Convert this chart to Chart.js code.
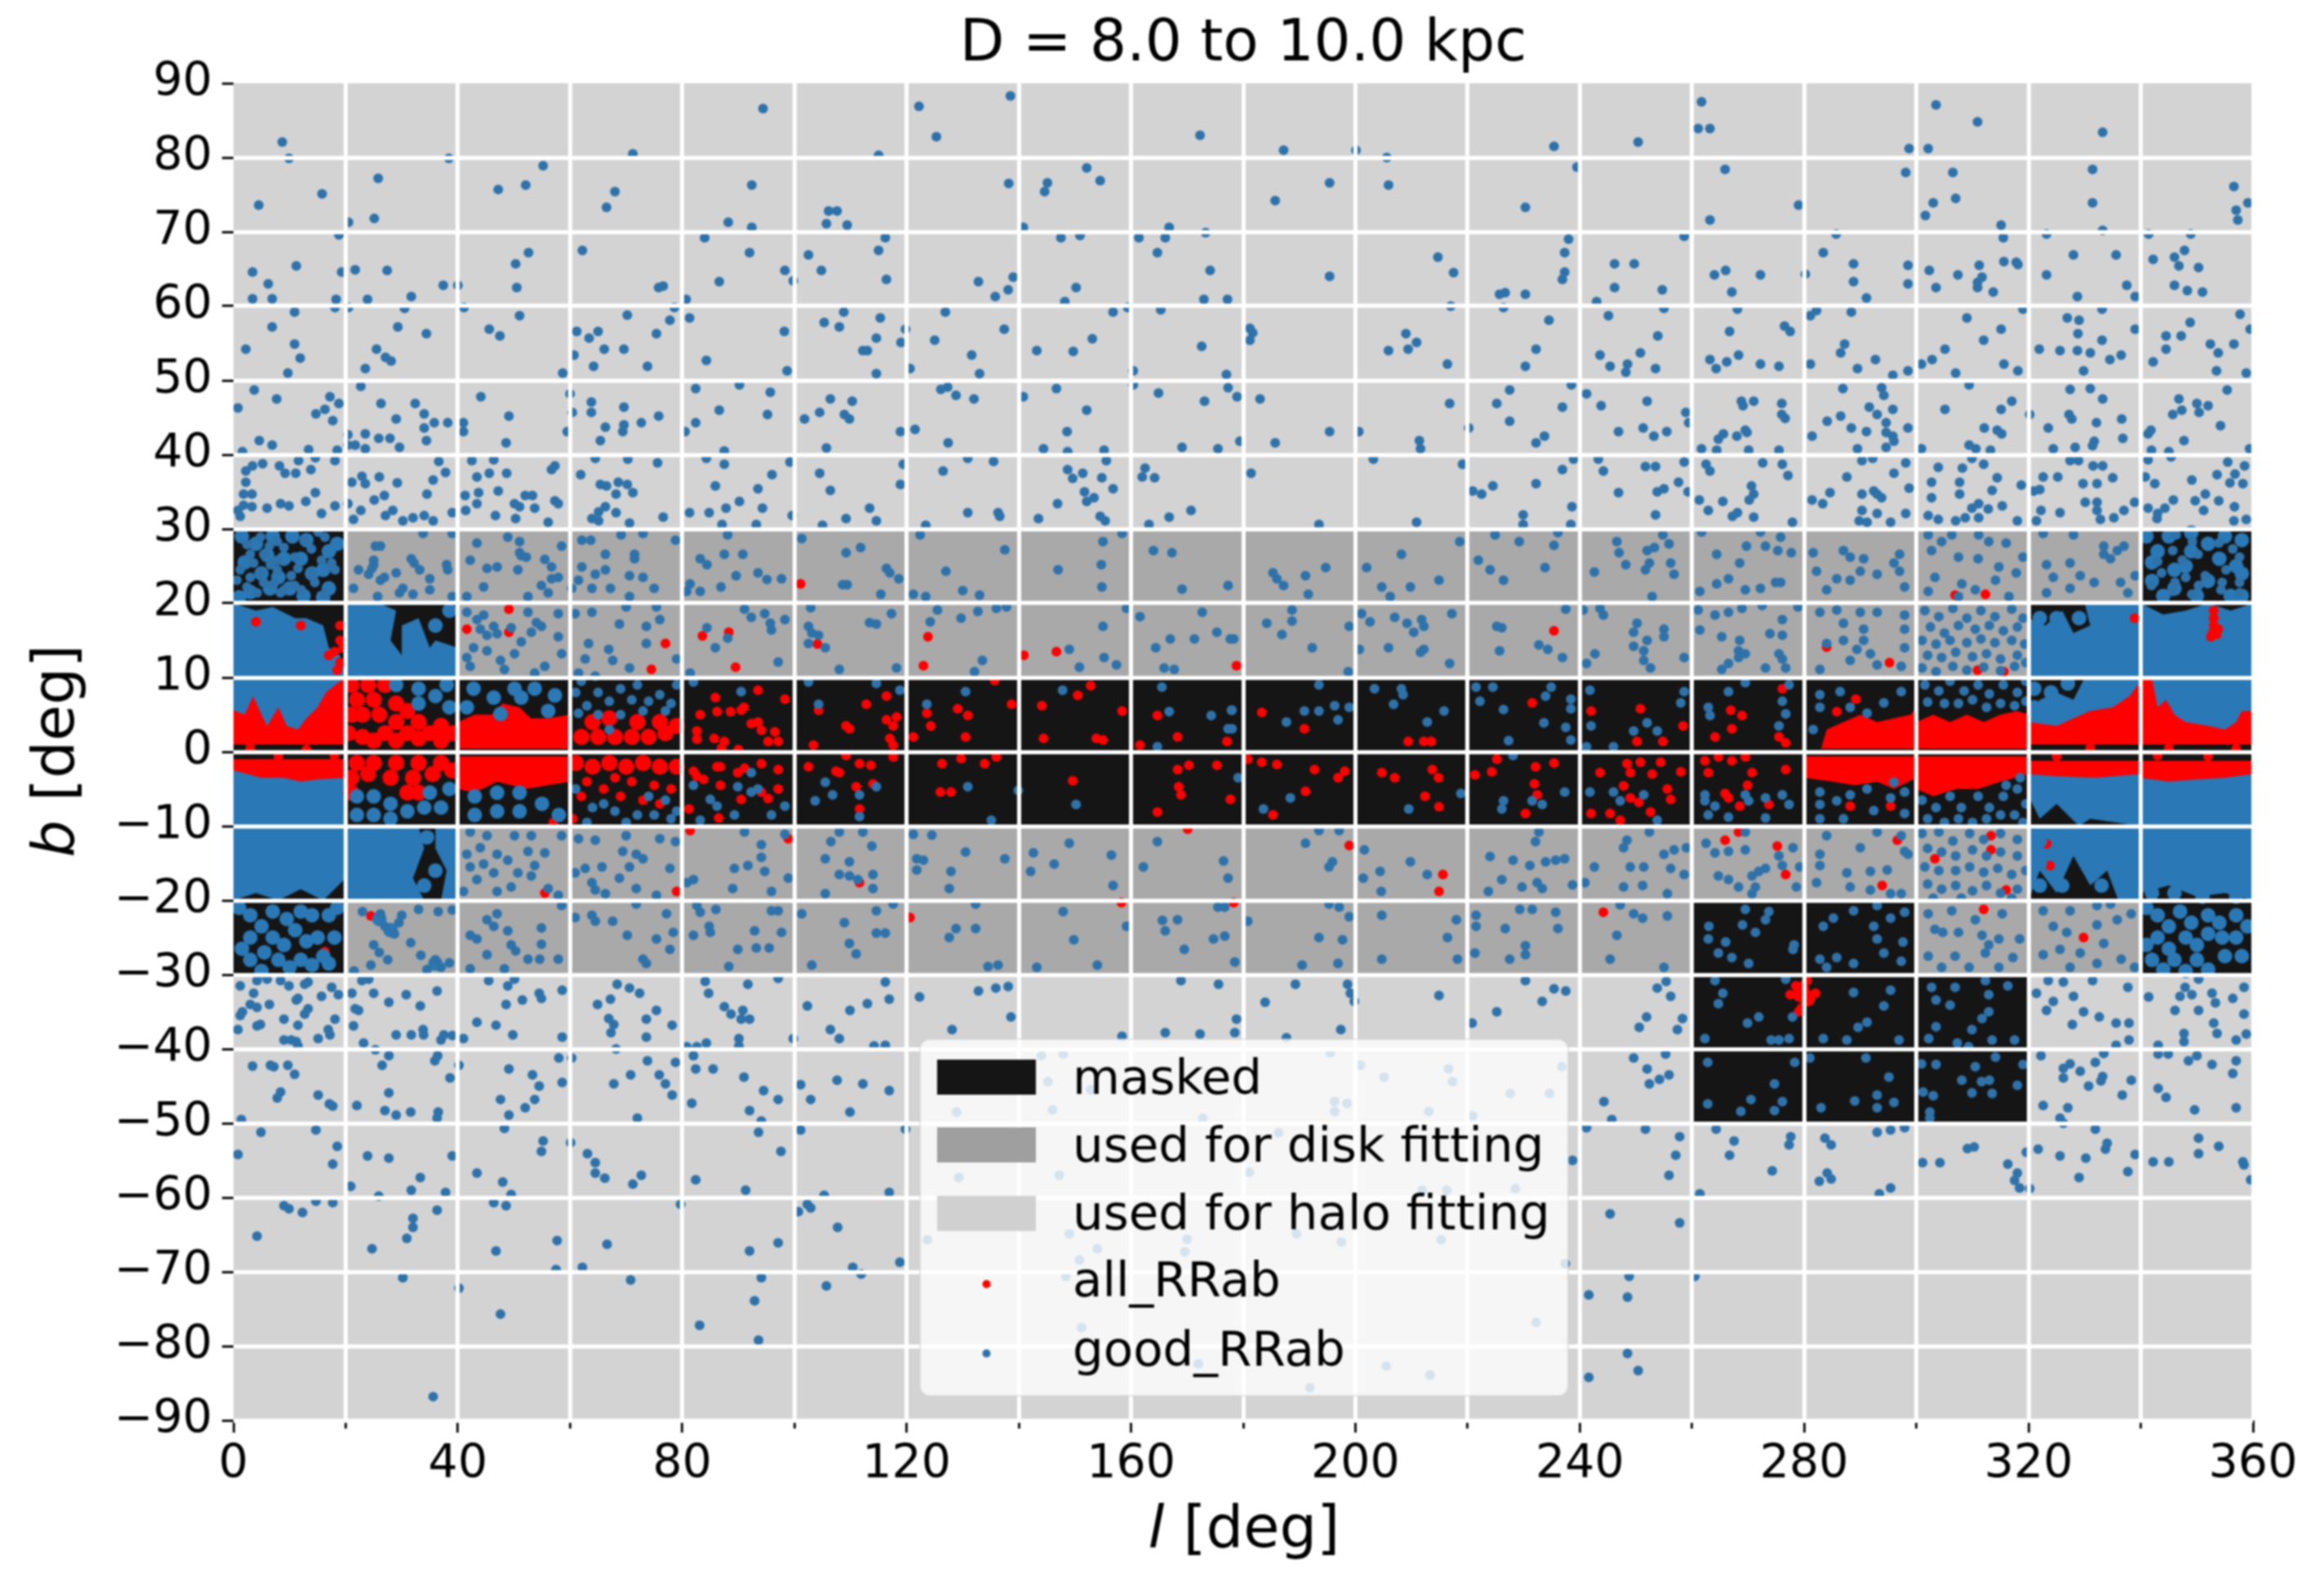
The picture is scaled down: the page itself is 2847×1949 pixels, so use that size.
<!DOCTYPE html>
<html>
<head>
<meta charset="utf-8">
<title>D = 8.0 to 10.0 kpc</title>
<script src="https://cdn.jsdelivr.net/npm/chart.js@4/dist/chart.umd.js"></script>
<style>
  html, body { margin: 0; padding: 0; background: #fff; }
  canvas { display: block; filter: blur(0.8px); }
</style>
</head>
<body>
<canvas id="chart" width="2847" height="1949"></canvas>
<script>
const titleText = "D = 8.0 to 10.0 kpc";
const lTicks = [0, 20, 40, 60, 80, 100, 120, 140, 160, 180, 200, 220, 240, 260, 280, 300, 320, 340, 360];
const lLabels = [0, 40, 80, 120, 160, 200, 240, 280, 320, 360];
const bTicks = [90, 80, 70, 60, 50, 40, 30, 20, 10, 0, -10, -20, -30, -40, -50, -60, -70, -80, -90];
const legendNames = ["masked", "used for disk fitting", "used for halo fitting", "all_RRab", "good_RRab"];

// one string per b row (90 down to -90), one letter per 20 deg of l
// M = masked, D = disk fitting, H = halo fitting
const cellRows = [
  "HHHHHHHHHHHHHHHHHH",
  "HHHHHHHHHHHHHHHHHH",
  "HHHHHHHHHHHHHHHHHH",
  "HHHHHHHHHHHHHHHHHH",
  "HHHHHHHHHHHHHHHHHH",
  "HHHHHHHHHHHHHHHHHH",
  "MDDDDDDDDDDDDDDDDM",
  "MMDDDDDDDDDDDDDDMM",
  "MMMMMMMMMMMMMMMMMM",
  "MMMMMMMMMMMMMMMMMM",
  "MMDDDDDDDDDDDDDDMM",
  "MDDDDDDDDDDDDMMDDM",
  "HHHHHHHHHHHHHMMMHH",
  "HHHHHHHHHHHHHMMMHH",
  "HHHHHHHHHHHHHHHHHH",
  "HHHHHHHHHHHHHHHHHH",
  "HHHHHHHHHHHHHHHHHH",
  "HHHHHHHHHHHHHHHHHH"
];

// good_RRab, b > 30, l < 180
const goodNorthA = [[8.7,82.1],[94.4,86.6],[122.2,86.9],[125.3,82.8],[138.5,88.3],[172.3,83],[9.9,79.9],[38.4,79.9],[71.2,80.5],[115,80.3],
[4.5,73.6],[15.8,75.1],[20.5,71.3],[25.1,71.8],[25.8,77.2],[47.2,75.7],[52.1,76.3],[55.2,78.9],[66.5,73.3],[68,75.4],[88.2,71.3],[92.4,76.3],[105.7,71.1],[106.1,72.8],[107.6,72.8],[109.4,70.9],[138.2,76.5],[145.1,76.6],[144.6,75.4],[152.1,78.6],[154.5,76.9],[92.4,70.6],[140.8,70.6],[166.8,70.6],
[18.8,69.6],[3.4,64.6],[6.2,63],[11.2,65.4],[3.4,61],[6.9,61],[19.3,64.6],[21.7,64.9],[27.4,64.8],[23.9,60.9],[31.7,61.3],[37.4,62.8],[40,62.8],[52.6,67.2],[50.3,65.7],[50.5,62.5],[62.2,67.5],[75.8,62.5],[76.6,62.7],[84,69.2],[92,67.2],[86.6,63.3],[98.3,64.8],[99.8,63.4],[102.5,66.9],[104.8,64.8],[116.2,69.2],[115,67.5],[116.4,63.6],[132.8,63.3],[135.8,61.3],[138.1,62.2],[139,63.9],[147.5,69.2],[150.9,69.5],[150.2,62.5],[161.4,69.2],[166.1,69.2],[164.7,67.2],[173.3,69.9],[174.1,64.8],[173,60.9],[177.2,60.9],[18.3,60.9],[80.7,60.9],[148.2,60.6],
[10.9,59.2],[6.9,57.2],[2.2,54.2],[10.9,54.9],[11.9,53],[9.7,51],[18.1,59.8],[20.5,59.8],[30.5,59.7],[29.3,57.2],[34.4,56.3],[25.5,54.2],[27.1,53.1],[28.1,52.6],[23.5,51.6],[41.1,59.8],[51,58.7],[45.6,56.9],[47.5,56],[58.7,51],[60.7,53.4],[61.2,56.6],[63.4,55.7],[65,56.6],[66.1,54.2],[69.6,54.2],[64.2,51.9],[70.2,58.8],[73.8,51.9],[75.4,56.3],[77.8,58.1],[78.6,59.8],[81.3,58.4],[84.3,52.7],[98.2,56.6],[98.7,51.3],[108.8,59.2],[105.3,57.8],[108,57.2],[115.3,58.4],[114.6,55.7],[112.2,54],[113,54],[119,55.1],[119.8,56.9],[114.6,50.9],[120.6,51.6],[126.9,59.2],[125,55.4],[137.4,56.9],[131.6,53.4],[133,50.9],[143.2,54],[149.7,53.9],[153.1,55.6],[156.8,59.2],[159.4,59.8],[165.3,59.5],[172.6,54.6],[160.4,51.3],[177,50.8],
[3.7,48.7],[7.7,47.5],[0.8,46.3],[17.2,47.8],[18.8,46.9],[16.3,46.1],[14.7,45.5],[17.7,44.6],[4.6,41.9],[6.9,41.3],[13.4,40.7],[18.5,40.6],[1.6,40.4],[22.7,49.2],[26.3,46.9],[32.4,46.9],[34,45.5],[29,44.8],[35.8,44.3],[38.2,44.3],[34,43.6],[34.4,41.9],[20.4,42.7],[23.5,42.8],[25.9,42.2],[27.9,42.2],[21.7,41.3],[20.4,41.3],[23.5,40.8],[29.6,41],[41,44.3],[41,43.1],[44.1,47.8],[49.1,45.2],[48.6,41.6],[60,48.2],[63.8,47.1],[63.8,45.7],[60.4,45.7],[69.6,46.4],[66.3,43.7],[69.6,44],[69.4,43.1],[72.7,44.3],[75.8,45.2],[65.4,41.9],[59.5,43.1],[82.4,48.9],[90.2,49.4],[95.7,48.4],[86.6,46],[95.2,45.4],[82.4,44.3],[80.5,43.1],[87.5,40.5],[106.4,47.5],[110.3,47.2],[104.5,45.7],[101.8,44.8],[108.9,45.4],[109.8,44.8],[105.7,40.9],[118.9,43.1],[126.1,48.8],[127.3,49.1],[128.8,48],[132,47.5],[121.5,43.4],[127.4,41.6],[140.8,47.8],[146.7,48.9],[152.1,46],[148.6,43.1],[144.4,40.8],[155.2,40.6],[148.7,40.4],[164.9,48.3],[173.1,47.2],[177.3,49],[178.9,47.8],[169.1,41],[175.5,40.8],[160.4,49.4],[179.4,41.8],
[2.2,37.8],[2.2,36.3],[3.4,38.5],[5.2,38.8],[8.2,38.5],[9.2,37.5],[11.1,37.5],[13.8,38],[11.6,39.2],[18.1,39.2],[14.6,39.6],[0.8,32.5],[1.2,31.7],[1.8,34.7],[3.3,34.7],[1.8,33.2],[3.3,33],[6,32.8],[8.4,33.4],[9.9,33.1],[12.9,33.7],[14.6,34.9],[15.7,32.1],[18.1,33.1],
[21.1,36.3],[22.9,37.1],[23.5,36.1],[26,37],[29.2,36.2],[35.6,36.6],[37.8,37.6],[36.6,39.1],[34.5,34.7],[26.9,34.5],[25.1,33.9],[20.4,33.4],[22.7,32.5],[21.4,31.3],[28.4,32.5],[27.1,31.8],[30.2,31.1],[32,31.5],[34,31.8],[35.6,31.1],[39,32.2],
[42.5,39.2],[46.4,39.3],[43.4,37],[45.6,37.5],[48.7,37.5],[57.3,38.5],[56.7,38],[41.3,34.5],[43.7,34.9],[47.2,35.1],[52,34.5],[53.3,34.5],[41.4,32.5],[43.4,33.4],[50.1,33.4],[51,33],[53.7,32.8],[57.3,33.8],[57.9,33.4],[46.7,31.8],[50.3,31.4],[56.1,30.9],
[64.5,39.5],[70.3,39.4],[75.6,38.9],[61.9,37.3],[65.4,36],[66.5,35.8],[68.6,36.3],[70.2,36],[68.2,34.7],[71.2,34.9],[66.3,33],[65.1,32.3],[68.2,32.2],[63.9,31.4],[65.1,31.1],[76.6,31.6],[70.6,30.8],
[84.3,39.5],[87.5,38.7],[99.2,39],[96,37.3],[85.9,35.8],[93.5,35.4],[90.2,33.7],[87.8,32.8],[84.8,32.2],[81.3,32.2],[94.3,32.8],[87.1,30.6],[93.2,30.6],[104.5,37.5],[106.4,35.2],[119.4,38.7],[118.9,36],[113.4,32.8],[114.6,31.1],[109.2,31.4],[105,30.5],[99.6,31.8],
[126.5,37.8],[130.9,39.5],[135.5,39.1],[130.9,32.2],[136.3,32.2],[136.6,31.7],[123.4,30.5],[148.7,38],[149.6,36.8],[151.4,37.5],[154.8,36.9],[155.6,39.2],[156.8,35.4],[151.7,35],[153.4,34.2],[152.1,33.7],[146.9,33.4],[143.5,31.4],[154.5,31.7],[155.4,31.1],[162.5,38.2],[162,37],[164.2,36.9],[170.7,32.5],[166.8,31.6],[163.2,30.6]];

// good_RRab, b > 30, l > 180
const goodNorthB = [[187.2,81],[200.1,81],[205.6,80],[235.4,81.5],[250.4,82.1],[261.7,87.5],[261.1,83.9],[263.2,83.9],[298.7,81.2],[302.1,81.2],[303.5,87.1],[310.9,84.8],[333.2,83.4],
[185.7,74.2],[195.4,76.6],[205.9,76.3],[230.3,73.3],[239.5,78.7],[265.9,78.4],[263.2,71.6],[279,73.6],[298.1,78],[306.5,78],[303,73.9],[307,74.5],[301.6,72.2],[315.1,70.9],[331.4,78.4],[331.4,73.9],[356.6,76.1],[359.1,73.9],[357,72.9],[357.3,71.6],
[195.4,64],[214.7,66.6],[217.5,64.5],[217,60],[225.7,61.6],[226.7,61.8],[230.3,61.6],[238,69],[237.3,67.2],[237.3,64.6],[236.9,63.6],[226.4,59.8],[258.6,69.4],[246.2,65.7],[249.7,65.7],[246.2,62.5],[254.7,62.2],[243,60.6],[264,64.2],[266,64.8],[272.2,64.2],[267.1,61.9],[280.2,64.3],[285.7,69.7],[283.4,67.2],[288.8,65.7],[288.8,63.3],[291.1,61.1],[298.5,65.5],[298.5,63],[302.3,64.8],[303.5,62.5],[307.4,64.2],[311.2,65.5],[311.7,63.9],[310.9,63.2],[310.9,62.5],[313.7,61.9],[315.5,69.2],[315.6,66],[317.8,65.9],[318.1,65.6],[323.2,69.7],[323.2,64.2],[328,66.9],[335.6,66.9],[333.2,70.2],[328.7,61.3],[337.5,62.8],[339,61.3],[341.4,69.7],[348.9,69.7],[342.2,66.3],[346,66.6],[347.8,67.5],[346.8,65.4],[350.3,65.2],[346,62.8],[348.3,62.1],[351,61.9],
[181.2,57],[181.7,56.4],[181.2,55.4],[209,56.3],[210.9,55.1],[209.4,54.2],[205.9,54],[216.4,52.2],[234.5,58.1],[232.2,54.2],[230.3,51.9],[255,59.7],[245.1,58.7],[253.9,56],[243.6,53.4],[250.8,53.7],[245.4,51.9],[248.5,52.2],[248.2,51.1],[253.5,51.6],[268.1,59.6],[266.7,56.6],[276.5,57.3],[277.5,56.6],[263.2,52.8],[266.2,52.5],[268.3,53.4],[264.3,51.6],[272.2,52.2],[275.5,51.9],[281.1,58.7],[282.2,59.4],[288.4,59.2],[287.2,54.9],[286.5,53.7],[281.1,52.2],[292.7,52.8],[289.5,51.6],[298.5,51.3],[295.8,50.7],[300.9,52.2],[302.8,52.8],[305.1,54.2],[307,51],[309,58.4],[315.1,56.9],[312,55.4],[319,59.6],[315.6,52.2],[318.1,51.3],[326.9,58.4],[329,58.1],[328.8,56.3],[321.9,54.2],[325.6,54],[328.7,54],[331,53.7],[333.1,55.4],[333.1,59.6],[334.5,52.8],[336.5,53.4],[329.8,51.3],[339,56.9],[344.5,56],[347.2,56],[348.8,57.8],[352.4,54.9],[344.5,54.2],[342.2,52.5],[353.8,53.7],[356.6,54.9],[353.5,51.3],[357.7,58.9],[358.8,51],[359.5,56.9],
[183,47.5],[216.8,46.9],[195.4,43.1],[185.7,41.6],[200.6,43.1],[211.4,41.9],[211.6,40.8],[220.2,43.6],[227.5,48.7],[225.2,46.9],[227.5,44.5],[236.9,46.4],[233.7,42.5],[232.2,41.6],[238.5,49.4],[241.2,48.2],[243.8,46.6],[252,47.2],[246.9,43.1],[251.3,43.6],[253.2,42.5],[255.5,43.1],[258.9,45.7],[259.4,44.3],[261.7,40.8],[264.4,40.6],[268.8,47.2],[269.1,46.6],[271,47.2],[276,46.9],[276,45.4],[276.6,44.9],[269.5,43.3],[269.8,43],[268,42.5],[265.6,42.8],[264.7,42.1],[270.1,40.6],[275.5,40.6],[281.4,42.5],[284.1,44.5],[286.5,45.2],[288.4,43.6],[291.1,43.1],[286.9,48.9],[293.8,49],[294.2,48],[291.6,46.4],[293,45.4],[295.8,46.1],[294.6,44.3],[294.6,43],[295.8,42.5],[296,41.8],[298.5,43.6],[289.5,40.8],[294.6,41],[309.4,49.4],[305.1,46.1],[317,47.2],[315.1,46.1],[312.1,43.6],[314.4,43.3],[315.2,42.8],[309.4,41.3],[310.6,40.8],[313.2,40.6],[300.9,40.8],[320.2,45.4],[327.4,48.8],[331,48.9],[333.2,47.5],[327.2,45.4],[327.7,44.8],[332.1,44.3],[336.6,44.8],[323.5,43.6],[336.8,42.2],[331.7,41.8],[331.4,41.2],[324.4,40.8],[328.3,41],[347.7,41.9],[346.8,47.5],[350,46.9],[352,46.6],[350.4,45.7],[345.7,45.4],[347.3,46],[354.2,43.9],[355.4,48.7],[341.8,43.3],[341.3,42.8],[341.9,40.6],[345,40.4],[359.4,40.8],
[181.4,37.5],[203.2,39.4],[219.1,38.7],[193.5,30.6],[210.9,30.9],[238.9,39.4],[236.9,38],[232.2,36.1],[224.5,35.8],[222.5,34.7],[220.9,35.1],[229.9,31.9],[238.6,33],[229.9,30.6],[238.4,30.6],[243.3,39.4],[244.2,37.8],[246.9,34.9],[251.7,38.4],[253.5,38.4],[258.6,39],[257.6,36.3],[255,35.4],[253.8,35],[253.5,31.9],[259.3,35],[262.5,38.7],[263.2,37.8],[261.3,33.9],[265.5,33.7],[262.9,32.5],[270.6,35.8],[271,34.7],[270.2,33.9],[268.1,32.2],[267.2,31.7],[271,31.6],[272.6,38.9],[276.1,38.7],[277.1,37.2],[277.9,30.9],[292.2,39.5],[290.3,39.2],[287.6,37],[281.4,33.9],[283.3,33.4],[284.6,34.9],[290.3,34.7],[293,34.7],[292.4,35.1],[293.8,34.2],[296,37.5],[298.1,38.9],[298.7,35.5],[290.3,32.5],[293,32.1],[289.8,31.1],[291.2,30.9],[295.4,30.9],[298.1,32.1],
[303.9,38.3],[308.2,38.2],[302.7,36.3],[307.7,36.3],[302.7,34.2],[307.7,34.7],[314.4,36.9],[313.5,35.2],[312,38.7],[309.9,39.5],[318.7,35.9],[302.1,31.8],[303.9,31.3],[307,31.1],[308.7,31.5],[309.9,32.8],[311.1,33.4],[312.8,32.7],[315.3,33.1],[311.1,31.5],[318,31.1],
[322.6,37],[325.2,37],[327.4,39.2],[328.9,39.2],[322,35.3],[320.9,35.1],[329.7,36.1],[332.2,36.1],[331.5,38.5],[333.2,38.5],[335,36.9],[338.9,33.6],[322.2,32.5],[325.6,32.2],[330.1,33.6],[332.2,33.6],[332.2,32.5],[332.8,31.3],[335.2,31.5],[337,32.5],[321.4,31.1],
[341.3,39.3],[345.4,39.7],[355.5,39],[358.5,38.5],[340.8,37],[342.5,36.1],[349.1,36.6],[353.6,37.3],[355.9,36.2],[356.8,37.4],[358.2,36.1],[345.8,33.9],[349.7,33.8],[351.5,34.7],[353.9,33.8],[356.7,33],[341.3,32.8],[343,32.1],[344.3,32.8],[342.9,31.4],[351.2,32.5],[356.6,31.1],[358.8,31.3]];

// good_RRab, 10 < b < 30
const goodUpperDisk = [[7.8,28.3],[2.4,27.9],[16.3,28.9],[15.1,29.6],[5.4,26.6],[3.6,25.4],[7.8,25.8],[10.9,26.2],[17.5,25.4],[4.8,24.1],[1.2,24.5],[10.3,23.7],[13.9,24.1],[7.2,22.6],[2.4,22.2],[16.3,21.2],[12.1,21.8],[8.4,21.4],[4.2,21.4],[18.1,24.5],[12.7,28.5],[4.8,28.9],[9,27.5],[6.6,25.2],[14.5,22.8],[10.9,22.4],[3,26.6],[6.4,27.7],[11.5,24.7],[9,21.8],[15.7,25.8],[0.6,23.1],[5.4,22.8],[7.8,24.5],[3,23.5],[13.9,27.3],
[25.3,27.7],[26.2,27.7],[33.8,29.4],[39,29.4],[25,25.8],[22.3,24.5],[24.1,23.9],[26.2,23.1],[29,24.1],[31.7,26],[33.2,24.5],[38,25.2],[35,23.3],[30.2,22],[21.4,22],[25.7,20.9],[32,21.2],[35,21.8],[39,20.9],[25,25.2],[26.9,23.5],[32.2,25.4],[29.6,21.4],[24.7,24.7],[38.2,24.5],
[43.4,28.1],[48.9,28.9],[51,28.3],[42.2,25.8],[51,26.8],[52.2,26.2],[58.5,27.7],[55.5,25.9],[45.2,24.7],[47,24.9],[50.7,24.5],[56.7,24.9],[57.9,23.5],[54.9,22.4],[44.6,22.2],[56.1,21.4],[41.6,20.9],[52.5,20.9],[51.3,26.4],[56.7,23.3],
[62.1,28.5],[63.7,28.5],[69.1,29.2],[73,29.4],[78.8,28.5],[66.3,26.6],[71.5,26.6],[62.1,24.9],[66.3,24.5],[64.5,23.9],[61.5,23.1],[73,23.5],[70.6,23.7],[60.3,22],[63.9,22],[67.2,22],[75,22],[70.6,20.9],[71.5,26],
[88.1,29.2],[87.5,26.6],[90.8,26.6],[83.2,26],[84.4,25.2],[89.6,23.7],[93.5,24.1],[95.1,23.2],[97.7,23.3],[81.4,22.6],[86.9,22.2],[80.8,21.6],[83.2,21.6],[101.3,28.7],[109.2,26.8],[111.8,27.5],[116.4,24.7],[117,24.1],[118.6,23.3],[108.6,22.5],[109.4,22.5],[115.4,21.2],[122.4,29.2],[137.5,27.2],[127,24.3],[130,21.7],[133,21.1],[121.2,21.2],[123.4,20.9],[158.4,29.4],[155,28.3],[154.7,25.2],[147,24.5],[154.8,22.2],[169.1,21.9],[164,27.1],[167.3,26.8],[177.3,22.4],
[185.3,24.1],[186,23.3],[187.2,22.4],[191.1,23.7],[194.7,24.8],[191.6,21.2],[208.2,26.6],[218.6,28.3],[202,24.8],[204.7,22.2],[209.8,22.2],[214.9,23.1],[206.2,20.9],[224.9,29.2],[236.1,29.5],[229.2,28.3],[235.4,27.8],[221.9,25.8],[224,24.5],[233.8,24.8],[226.4,23.1],[254.8,29.2],[246.6,28.3],[255.9,28],[247,26.8],[252,27.1],[253.3,27.5],[248.2,25.2],[252.4,25.4],[251.7,24.5],[256.2,25.4],[256.8,23.9],[242.6,24.2],[252.9,20.9],
[261.7,29.6],[272.2,29.6],[275.8,28.9],[269.7,27.7],[273.1,27.7],[275.3,27.1],[277.7,26.8],[264.4,26.6],[268.5,25.4],[264.4,22.6],[266.5,23.3],[261.4,21.6],[269.5,21.8],[272.2,22],[274.9,22.8],[275.8,22.8],[281.6,26.8],[287,27.1],[288.2,26.2],[290.6,26],[290,24.3],[297,26.6],[296,25.4],[282.2,24.3],[297,24.3],[285.8,23.3],[288.2,23.1],[284,21.8],[293,23.9],[297.9,22.2],
[302.1,29.2],[306.3,29.2],[311.1,29.2],[316,28.1],[302.7,27.1],[307.5,26.2],[311,26],[314.7,24.9],[319,26.2],[303.3,23.5],[308.1,22.6],[310.5,21.8],[314.1,23.1],[317.8,24.1],[302.1,21.6],[307.5,20.9],[316.5,20.9],[312.9,28.3],[304.5,28.3],
[322.6,29.4],[328,29.2],[333.4,26.6],[335.8,27.1],[334.6,26],[337,27.7],[333.4,27.7],[323.2,25.2],[327.4,25.4],[339,23.7],[324.4,23.5],[331.7,22.8],[336.4,22.8],[327.4,22],[323.2,21.4],[337.7,21.4],[329.2,23.7],
[346.3,29.2],[345.7,27.1],[349.2,28.3],[353.9,28.1],[347.4,25.8],[350.2,26.6],[357.6,26.2],[355.2,24.5],[343.7,24.1],[348,23.5],[351.5,23.7],[357.6,22.8],[354.3,21.8],[345.7,21.6],[349.1,21.2],[357.6,21.4],[341.9,22.4],[346.1,22.8],[350.3,22.4],[354.5,22.8],[356.4,27.3],[343,25.6],
[41.6,18.8],[43.4,17.8],[46.4,16.9],[45.2,15.7],[52.5,18.8],[54.9,16.9],[53.1,16.1],[51.3,14.8],[57.9,18.6],[57.9,15.5],[42.8,14],[41.6,12.7],[45.2,13.6],[47.6,12.3],[50.1,13.2],[55.5,11.5],[58.5,13.2],[42.2,11.5],[48.3,11.1],[53.7,10.6],[44,16.5],[49.5,16.7],[54,17.4],[47,15.9],[44.6,18.4],
[60.9,18.6],[63.9,18.8],[70,19.5],[75.4,19.5],[68.8,17.2],[76,17.8],[73.6,16.9],[63.3,14.6],[66.9,13.8],[73.6,14.6],[62.7,12.5],[67.6,12.3],[70.6,11.3],[79,12.5],[61.5,10.6],[64.5,10.2],
[91.1,19.2],[92.3,18.1],[94.7,18.6],[95.7,17.3],[98.3,17.8],[95.9,16.4],[84.4,16.7],[88.1,15.3],[85.9,14],[97.1,12.1],[81.4,10.6],[102.9,19.4],[117.3,18.6],[113.4,17.4],[114.6,17.2],[102.5,16.9],[103.1,16],[104.3,15.7],[102.5,14.6],[105.5,14],[108,11.1],[118.2,11.3],[125.5,19.1],[124.2,17.5],[129.7,18],[132.7,18.9],[136,19.3],[137.8,19.5],[133.5,12.3],[132.1,10.8],[149,13.8],[155,16.9],[155.2,12.7],[157.4,11.7],[150.8,11.4],[159.2,19.3],[161.6,18.2],[172.7,18.8],[164.4,14],[167,15.2],[171.3,15.2],[175.3,16.1],[177.7,15.2],[165.9,11.3],[167.7,11.1],
[188.7,19.1],[188.7,17.6],[184.2,17.3],[186.9,15.8],[192.3,14],[178.3,15.2],[198.7,10.8],[198.9,16.9],[201.1,18.6],[202.6,17.5],[207,18.1],[209.2,17.3],[211.8,17.8],[212.2,16.9],[210.4,16.1],[217.2,18.6],[205.9,14],[212.2,13.8],[211.6,13.4],[216.8,11.9],[200.7,13.8],[237.5,19.2],[225.2,16.9],[226.1,16.7],[225.7,13.6],[232.7,14.4],[234.3,13.8],[236.9,12.7],
[240.6,19.1],[243.6,19.3],[244.2,18.4],[250.2,17.3],[249.6,16.1],[255,16.5],[255,15.5],[252,15],[249.6,14.2],[251.4,13.6],[242.7,13.2],[241.2,11.9],[251.4,12.3],[252.6,11.3],[258.6,12.7],
[261.1,19.1],[266.5,18.8],[264.1,18.4],[268.9,19.3],[272.5,19.7],[278.9,19.5],[276.1,17.8],[261.4,16.4],[265.3,15.5],[268.5,15],[273.9,15.9],[276.1,15.7],[268.3,13.6],[269.5,13.2],[266.5,11.9],[265.3,11.1],[275.5,13.2],[276.1,12.5],[273.1,11.3],[276.7,11.3],[268.3,12.7],
[282.8,18.8],[285.8,19.1],[290,18.8],[293,18.8],[297.9,18.4],[287,17.3],[290.6,16.5],[297.9,16.5],[287,15],[284,14.6],[290.6,15],[289.4,13.8],[288.2,12.3],[297.9,14],[293,11.7],[282.8,11.1],[297.3,11.5],[291.8,13.2],
[301.5,19],[304,18.2],[306.5,19.3],[309,18],[311.5,19],[314,18.2],[317,19.2],[319,18],[302.5,16.8],[305,16],[307.5,17],[310.5,16.5],[313,17],[315.5,16.3],[318,16.8],[301,15],[303.5,14.5],[306,15],[309,14.7],[311.5,15.2],[314,14.7],[317,15],[319.3,14.5],[302,13],[304.5,12.7],[307,13.4],[310,12.8],[312.5,13.2],[315,12.5],[318,13],[301,11.3],[303.5,10.8],[306.5,11.5],[309,11],[312,11.4],[315,10.9],[317.5,11.5],[319.5,12]];

// good_RRab, -10 < b < 10, single stars on the masked strip
const goodMidplane = [[61,8],[65,8],[69,8.5],[72,9],[76,7.7],[63,6.2],[67,6.8],[71,7],[74,6.8],[78,6.5],[61.5,5.2],[65,5],[69,5],[73,5.5],[77,5.5],[67,3],[62,9.5],[79,9],[61,-5],[64,-7.5],[66,-7],[68,-8],[72,-8.5],[75,-8.5],[63,-9.5],[78,-9],[70,-9.5],[74,-6],[77,-6.5],[79,-8],
[90.5,8.1],[82,9.4],[92.3,-2.8],[82,-4.5],[89.9,-4.7],[93.5,-5],[85,-6.4],[86.2,-7.3],[98.3,-7.3],[89.3,-8.5],[83.2,-9.2],[95.9,-8.5],[92.3,-5.4],
[104.3,6.4],[102.5,9.4],[114.6,9.2],[118.8,8.3],[105.5,-4.1],[103.7,-6.6],[106.8,-5.8],[111.6,-5.8],[114.6,-4.7],[111.6,-8.7],[130.5,8.1],[123.6,6.4],[130.9,-4.7],[139.9,-5.2],[135.1,-9.2],[147.8,8.3],[150.2,-7.1],[165.5,8.7],[166.8,5.4],[174.3,4.9],[177.9,5.6],[177.3,3.1],[164.7,0.7],[179.1,-3.5],
[193.5,9],[190.9,5.5],[193.5,5.5],[196.3,6.2],[198.9,6],[196.9,4.3],[187.7,4],[178,5.6],[178,3.1],[188.4,-6.2],[183.6,-7.7],[203.4,8.5],[208.2,8.5],[208.5,7.7],[206.8,6.4],[215.8,5.5],[212.8,4],[209.5,-7.7],[218.8,-5.6],
[221.5,8.7],[224.5,8.7],[222.2,6.8],[226.4,5.7],[234.9,8.7],[233.9,7.5],[238.4,7.1],[238.4,5.8],[233.6,3.9],[237.5,3.3],[238.4,1.6],[227.3,1.5],[228.1,-0.5],[226.4,-6.6],[226.1,-7.7],[231.5,-6.6],[233.3,-7.1],[237.3,-5.4],
[241.8,8.3],[258.6,8.1],[258,6.6],[242,3.5],[249.6,2.8],[253.8,2.8],[252,3.9],[246,-5.4],[247.2,-6.6],[241.8,-5.4],[253.8,-9.2],[251.4,-5.8],[241.2,0.7],[246,0.7],
[262.9,6],[263.2,4.9],[266.5,8.1],[276.1,6.8],[276.7,5.1],[275.5,3.5],[262.3,-5.8],[262.3,-6.6],[264.1,-7.3],[269.5,-5.8],[270.1,-6.6],[273.1,-6.2],[276.1,-5.8],[277.3,-7.1],[262.9,-8.5],[266.5,-8.8],[273.1,-8.9],[269.5,9.3],[277.3,9],
[282.8,7.7],[286.4,8.1],[282.8,6],[288.2,6],[291.2,5.2],[297.3,8.1],[294.2,6.6],[281.6,3],[296,-4.1],[297.9,-5.4],[295.4,-6.2],[282.8,-5.4],[282.8,-7.1],[285.8,-6.6],[288.2,-5.8],[291.2,-5],[282.8,-9],[287,-9],[292.4,-7.9],[297.9,-8.3],
[301.5,9],[304,8.2],[306,9.5],[308.5,8.2],[311,9],[313,7.8],[315.5,9],[318,8],[319.5,9.5],[302,6.7],[305,6.5],[307.5,6.5],[310,7],[312.5,6],[315,6.5],[317.5,6.2],[319.5,6.8],
[301,-6.5],[303.5,-7.5],[306,-6],[308,-7.5],[311,-6],[313,-7.5],[315.5,-6],[318,-5],[319.5,-7],[302,-9],[305,-9.5],[307.5,-9],[310,-9.5],[312.5,-9],[315,-8.5],[317.5,-8.5],[319,-9.5],[316,-4.5],[318.5,-3.5]];

// good_RRab, -30 < b < -10
const goodLowerDisk = [[42.2,-10.8],[45.2,-11.3],[50.1,-11.3],[53.1,-11.3],[58.5,-11.3],[55.5,-13.6],[41.6,-13.8],[44,-12.9],[47,-13.8],[52.5,-13.4],[42.2,-15.5],[46.4,-16.3],[50.7,-16.3],[53.1,-16.7],[49.5,-18.2],[47,-18.8],[41,-18.8],[56.1,-18.4],[57.9,-19.3],[43.4,-17.2],[44.6,-15.1],[48.9,-14.6],[53.7,-15.3],
[61.5,-11.7],[64.5,-11.9],[76,-11.7],[78.8,-12.1],[69.4,-13.4],[71.8,-13.8],[73,-14.4],[70,-11.3],[62.7,-15.7],[65.7,-15.5],[70.6,-15.5],[60.9,-16.3],[68.8,-17],[63.9,-17.6],[64.5,-18.6],[71.8,-18.4],[77.8,-15.7],[66.3,-19.1],[75.4,-19.3],
[91.1,-10.8],[94.1,-12.5],[98.3,-11.1],[94.1,-14.2],[89.3,-15.7],[91.7,-15.3],[94.7,-16.1],[82,-17.2],[80.8,-17.6],[89,-18.4],[98.9,-17],[95.9,-18.8],[108,-10.8],[112.2,-10.8],[106.5,-12.1],[113.8,-12.7],[105.5,-14.4],[109.8,-14.8],[108,-16.5],[109.8,-16.7],[114,-16.5],[114,-18.4],[105.5,-19.1],[111.3,-17.2],
[121.2,-11.1],[124.5,-11.2],[130.5,-13.5],[121.8,-14.4],[123,-14.6],[137.5,-14.4],[121.8,-15.9],[127.9,-16.1],[127.6,-18.4],[149,-12.3],[142.6,-13.6],[146.3,-15.1],[156.5,-13.9],[142.1,-16.1],[156.8,-18],[164.7,-12.1],[176.5,-14.7],[162.2,-15.5],[177.3,-17],
[193.5,-10.6],[197.1,-10.6],[191.1,-12.3],[195.9,-14.8],[195.3,-15.5],[201.6,-13.2],[209.8,-14.8],[204.4,-16.1],[201.4,-17],[212.8,-16.5],[204.6,-18.8],[232.7,-10.8],[232.1,-12.1],[224,-14.1],[228.1,-14.6],[231.1,-15.3],[233.9,-14.8],[235.7,-14.6],[237.3,-14.4],[226.1,-17.2],[229.7,-18.2],[232.4,-17.6],[233.3,-18.4],[223.7,-18.8],[238.7,-17.9],
[252.4,-10.8],[248.4,-11.9],[247.8,-12.9],[256.8,-13.2],[255,-13.8],[259,-12.9],[242.6,-15.5],[249,-15.5],[251.4,-15.5],[256.2,-15.7],[258.6,-16.5],[240.9,-17.6],[247.8,-18.2],[251.2,-18],[255.6,-19.1],
[262.5,-12.3],[264.1,-13.6],[266.5,-13.4],[269.5,-13.2],[264.7,-16.7],[266.5,-17.2],[270.7,-16.7],[273.1,-15.7],[271.9,-16.1],[268.3,-18.2],[271.3,-18.2],[270.7,-19.1],[275.5,-14],[276.1,-15.3],[278,-12.9],[279.2,-15.5],[278.6,-18.2],[269.5,-10.8],
[282.8,-13.8],[284,-11.3],[290,-12.9],[293,-10.8],[297.3,-11.3],[297.9,-13.4],[282.8,-15.3],[287.6,-16.3],[288.2,-18.2],[291.8,-16.1],[294.8,-15.9],[282.2,-17.6],[297.3,-19.1],[298.5,-13.8],[295.4,-19.1],[291.8,-18.6],
[301,-11],[304,-10.8],[306.5,-12],[309.5,-11],[312,-11.8],[315,-11],[318,-11.8],[302,-13],[304.5,-13.5],[307,-14],[310,-13.2],[312.5,-14],[315,-13.5],[318,-14],[301.5,-15.5],[304,-16],[307,-16],[309.5,-15.5],[312,-16.2],[314.5,-15.7],[317,-16.5],[319.5,-16],[302,-17.8],[304.5,-18.5],[307,-18],[310,-18.7],[312.5,-18],[315,-19],[318,-18.5],[303,-19.7],[308,-19.7],[317,-19.7],
[23,-21.5],[26.2,-21.8],[27,-23.5],[29.5,-23],[28.7,-24.5],[33,-21.2],[36.5,-21.5],[39,-21.3],[31.6,-25.7],[26,-27],[27.5,-28],[24.5,-28.7],[36,-28],[37,-29],[33.4,-27.4],[38.5,-28.4],[21.5,-29.5],[34.5,-29.3],[25,-26],[30,-22],
[45.2,-22.6],[47,-21.8],[46.4,-23.5],[42.2,-24.7],[43.4,-25.2],[48.9,-24.1],[49.5,-26],[50.3,-26.8],[54.9,-23.7],[54.9,-25.9],[57.9,-27.9],[52.5,-27.9],[54.6,-27.9],[45.2,-27.3],[42.2,-29.2],[48.3,-29.2],[58.5,-20.7],
[60.9,-22.3],[63.9,-22],[64.5,-22.8],[67.6,-22.8],[71.8,-20.5],[77.2,-21.8],[70.2,-24.7],[75.4,-25.2],[78.4,-24.3],[77.8,-26.6],[73,-27.9],[73.6,-28.5],
[82.6,-20.7],[83.2,-21.6],[86,-21.2],[95.9,-21.4],[97.1,-21.4],[84.8,-23.5],[85,-24.3],[92.9,-24.1],[82,-24.7],[97.7,-24.3],[89.9,-26.6],[93.2,-26.4],[95.5,-26.4],[88.3,-28.9],
[101.3,-21.8],[114.6,-21.4],[108.9,-23],[114.6,-24.4],[116.2,-24.4],[109.8,-25.8],[111,-27.2],[103.1,-28.7],[117.6,-20.5],[132.3,-20.5],[128.8,-23.8],[132.3,-23.8],[127.6,-25],[134.5,-28.9],[136.3,-28.7],[147.9,-21.5],[159.2,-23.5],[149.8,-25.3],[154,-28.7],[143.2,-29],
[175.5,-20.9],[176.7,-20.9],[165.6,-22.7],[168.3,-22.6],[166.1,-24.1],[176.7,-24.8],[174.7,-25.2],[169.5,-26.6],[178.5,-28.3],[180.8,-22.8],[195.3,-20.5],[197.1,-20.9],[198.9,-22.2],[193.5,-25],[197.7,-25.3],[190.5,-28.7],[196.9,-28.5],
[204.7,-22],[218,-22.6],[216.4,-25],[204.7,-27.9],[218.2,-27.9],[221.5,-22],[229.3,-21.2],[231.5,-21.2],[235.7,-21.6],[221.5,-23.5],[226.7,-23.8],[236.1,-23.8],[230.3,-26.1],[230.3,-27.3],[227.5,-27.9],[221.3,-27.1],[247.2,-20.6],[249.6,-21.8],[251.2,-22.4],[255.6,-22.1],[246.6,-24.7],[245.4,-27.9],[255,-29],
[269.5,-21.2],[273.7,-21.5],[263,-23.5],[262.9,-25.2],[266,-25.6],[271.3,-24.3],[273.1,-22.6],[278.2,-26],[278,-26.6],[270.1,-28.5],[267.1,-27.7],[264.7,-27.1],[269,-23.3],
[283.4,-23.5],[285.2,-22.4],[288.8,-21.4],[293,-20.7],[297.9,-21.6],[295.4,-22.4],[293,-25.2],[297.6,-25.6],[285.8,-27.7],[282.8,-27.9],[288.8,-28.5],[294.2,-27.1],[297.3,-28.2],[292.4,-23.5],[284,-29],
[302.1,-21.8],[306.3,-21.4],[315.3,-21.8],[310.5,-22.6],[303.3,-23.9],[307.5,-24.3],[311.7,-24.7],[314.7,-25.2],[318.4,-25.2],[302.1,-27.5],[306.9,-27.5],[312.3,-27.1],[317.2,-27.7],[309.4,-29],[314.7,-29],[304.5,-29],[304.7,-24.3],[312.9,-26],
[322.6,-21.4],[327.4,-21.4],[332.2,-20.7],[334.6,-20.5],[338.3,-21.8],[324.4,-23.5],[326.8,-24.3],[332.2,-23.3],[335.8,-22.6],[322.6,-27.3],[325.6,-26.6],[329.2,-27.1],[333.4,-25.8],[336.5,-27.9],[332.2,-28.5],[327.4,-29],[338.9,-29]];

// good_RRab, b < -30
const goodSouth = [[1.2,-31.5],[4.2,-30.8],[6,-30.6],[8.4,-30.8],[9.9,-31.5],[3.6,-32.5],[11.5,-33.2],[12.7,-31.3],[13.3,-31],[15.7,-32.9],[17.5,-31.7],[18.7,-32.7],[3,-34],[4.2,-34.4],[6.4,-34],[1.6,-35],[1.2,-35.5],[11.2,-33.4],[13.3,-34.6],[12.7,-35.3],[9,-36],[11.5,-36.8],[18.1,-36],[0.8,-37.4],[4.2,-36.9],[4.8,-36.7],[16.9,-37.4],[17.2,-38.1],[15.1,-38.6],[9,-38.8],[10.3,-38.8],[11.2,-39],[11.5,-39.6],
[21.1,-32.5],[22.9,-30.8],[24.1,-30.6],[25,-32.5],[21.7,-34.6],[22.3,-34.8],[27.7,-33.7],[30.8,-32.7],[33.3,-34.2],[36.3,-32.2],[21.4,-36.9],[29,-38.1],[31.7,-38.1],[33.8,-37.4],[33.9,-38.1],[37.5,-38.1],[37,-38.8],[39,-38.2],[23.2,-39.2],[25.3,-40.1],[27.7,-40.9],[26.5,-42.2],[35.9,-41.6],[36.4,-40.9],[38.6,-43.9],[22,-47.6],[27.7,-45.9],[27,-48.3],[29,-48.9],[31.6,-48.5],[36.5,-48.5],[36.3,-49.3],
[3.4,-42.3],[6.6,-42.2],[7.2,-42.4],[9.7,-42.2],[10.9,-43.4],[8.4,-45.8],[7.8,-46.6],[15.1,-46.2],[17.1,-47.4],[17.7,-47.7],[1.4,-49.5],[4.9,-51.2],[14.7,-50.9],[18.5,-53.1],[0.8,-54.2],[17.7,-55.5],[20.9,-58.5],[23.9,-54.4],[27.7,-54.7],
[9,-61.1],[9.9,-61.5],[12.3,-62],[14.7,-60.5],[17.7,-60.7],[4.2,-65.2],[25.9,-59.8],[31.7,-59],[33.3,-57.3],[37.8,-59.3],[39,-54.4],[36.3,-61.7],[32,-62.8],[32,-64],[30.9,-65.5],[24.7,-66.9],[30.2,-70.8],[40.2,-72.2],[35.6,-86.8],
[45.5,-30.8],[48.9,-31.5],[50.1,-30.6],[54.5,-32.5],[54.9,-33.2],[51.5,-33.4],[48.6,-34],[58.6,-32.1],[43.4,-36.4],[46.8,-36.8],[49.8,-38.1],[41,-38.6],[58.6,-38.4],[49.1,-42.7],[53.3,-43.5],[54.5,-45],[58.6,-44.5],[58,-41.2],[47.6,-46.8],[53.7,-46.8],[52,-47.9],[49.1,-48.9],[48.3,-50.7],[55.2,-52.4],[54.9,-53.8],[43.4,-56.7],[48,-57.9],[49.5,-59.6],[48.6,-61.1],[46.4,-60.7],[46.8,-67.2],[57.7,-65.8],[57.5,-69.7],[47.6,-75.7],[40.2,-42.2],
[68.4,-31.3],[70.6,-31.8],[72.4,-32.5],[67.2,-33.3],[64.9,-34],[75.4,-34.8],[66.9,-35.9],[67.8,-36.7],[67.3,-37.8],[73.6,-36],[73.6,-38.4],[78.2,-36.8],[60.3,-41.2],[68.2,-40],[73.8,-41.6],[78.8,-41.8],[70.8,-43.5],[67.8,-44.7],[75.9,-43.5],[77,-44.7],[78.2,-46.2],[72,-49.3],[60.1,-52.6],[63.1,-54.1],[64.5,-55.3],[64.5,-56.7],[66.2,-57.4],[72.7,-57],[71.2,-58.2],[66.6,-66.3],[62.2,-69.4],[70.8,-71.1],
[84.1,-30.9],[84.7,-32.5],[91.7,-31.3],[97.1,-30.5],[87.5,-34.3],[88.7,-35.3],[90.8,-34.8],[90.5,-36],[92,-36],[90.1,-38.6],[90.1,-39.6],[84.3,-39.2],[80.8,-39.7],[82.6,-39.7],[82,-40.9],[82.4,-42.7],[85.5,-42.7],[91,-43.8],[94.5,-45.6],[81.7,-47.3],[92,-48.3],[97.1,-46.8],[94.1,-49.7],[93.6,-51.2],[97.6,-53.8],[82.4,-57.6],[91.3,-59],[79.7,-60.9],[92,-67.2],[97.1,-66.1],[94.1,-70.8],[92.9,-73.9],[83.1,-77.2],[93.6,-79.2],
[102.3,-34.2],[109.9,-34.8],[113,-33.9],[116.2,-31],[116.9,-33.3],[99.8,-38.6],[106.4,-37.4],[108,-38.6],[114.2,-39.6],[116.2,-39.5],[101.1,-44.8],[107.6,-44.2],[112.2,-44.7],[116.9,-45.6],[102.9,-46.8],[109.9,-48.5],[101.1,-50.9],[119.8,-50.8],[116.9,-59.3],[102.3,-60.9],[102.9,-61.4],[100.7,-61.9],[105.3,-59.7],[107.7,-64],[110.4,-69.4],[111.9,-70.3],[105.7,-71.9],[118.8,-68.7],
[122.3,-33],[132.8,-32.2],[135.9,-31.8],[138.1,-31.6],[138.6,-35.7],[128.1,-37.4],[158.4,-38.3],[166.1,-37.8],[172.3,-38],[178.5,-37.8],[178.8,-36],[168.9,-30.8],[175.6,-31.3],
[189.3,-31.3],[183.9,-33.7],[187.7,-38.5],[198.6,-31.3],[199.1,-32.5],[199.8,-33.6],[197.4,-37.4],[214.9,-32.8],[230.3,-30.8],[235.4,-31.9],[237.5,-32.2],[225.2,-35],[233.3,-33.6],[220.8,-36.5],[253.8,-31.8],[255.4,-30.9],[256.2,-32.9],[251.9,-35.7],[250.6,-37.1],[258.3,-35.9],[257.4,-37.4],[255.3,-40.7],[249.6,-41.2],[252,-42.7],[255.9,-43.5],[254.2,-44.1],[252.4,-44.7],[244.3,-47.1],[245.7,-49.5],[241.2,-50.6],[251.7,-50.8],[257.8,-51.8],[257.1,-54.3],[255.9,-57],[238.7,-55],[245.4,-62.2],[257.8,-63.4],[248.8,-70.6],[241.6,-73.1],[248.5,-73.4],[248.5,-81],[250.4,-83.3],[241.6,-84.2],
[260.5,-70.6],[261.4,-59.5],[264.3,-50.8],[267.5,-52.4],[266.7,-54.3],[277.6,-51.8],[277.3,-52.9],[274.3,-56.4],[283.7,-52],[284.8,-52.9],[284.1,-56.7],[284.8,-57.5],[282.7,-57.8],[295.4,-58.7],[293.4,-59.5],[293,-51.2],[295.4,-50.9],[297.9,-50.6],[301.1,-55.3],[304.2,-55.3],[309.1,-53.4],[310.3,-53.2],[316.3,-55.5],[318,-56.7],[317.5,-57.7],[318.4,-58.7],[319.6,-53.9],[320.2,-58.8],[321.7,-53.5],[325.6,-54.4],[330.2,-54.7],[334,-52.7],[333.7,-53.5],[329,-57.3],[339,-54.2],[337.7,-56.5],[342.2,-55.2],[345,-55.2],[350.3,-52],[350.3,-54.1],[353.9,-53.1],[358.2,-55.2],[358.4,-55.6],[359.6,-57.6],[331.9,-50.8],[326.2,-50],[325.6,-49.3],[327,-47.9],
[322.6,-47.6],[343.1,-45.3],[344.5,-46.5],[349.6,-48.2],[357,-47.9],[336.7,-46.2],[330.7,-45],[332.9,-44.3],[333.2,-43.7],[338.3,-44.2],[326.2,-43.9],[326.2,-42.6],[327.4,-42],[329.2,-43],[331.9,-41.8],[322.2,-40.9],[333.4,-40.6],[348.5,-41.6],[352.7,-42.1],[357,-41.6],[356.4,-43.3],[350,-40.9],[343.1,-40.7],[344.9,-40.7],
[321.4,-32.5],[324.4,-33.6],[328,-32.9],[323.5,-30.8],[326.2,-31],[331.4,-30.8],[337.7,-31.7],[323.2,-34.8],[329.8,-35],[332.6,-35.7],[327.8,-36.7],[335.6,-36.5],[337.9,-36.5],[337.9,-38.8],[335.6,-39.5],[341.4,-33],[347,-32.9],[349.1,-32.7],[347.9,-31.7],[350.3,-30.6],[352.7,-32.5],[356.4,-33.2],[358.4,-31.7],[353.3,-33.8],[346.1,-34.8],[350.3,-34.8],[358.4,-35.3],[353,-36.5],[353.6,-37.9],[347.7,-37.9],[347.7,-39],[343.1,-39.5],[357,-38.8],[358.8,-38],
[264.1,-30.8],[265.5,-32.5],[264.7,-33.9],[262.3,-38.6],[271.9,-35.7],[269.9,-36.5],[274.1,-38.8],[275.5,-38.8],[277.3,-38.6],[277.9,-35.7],[276.7,-30.6],[262.8,-41.8],[278.3,-41.8],[274.7,-44.7],[262.8,-47.4],[270.5,-46.8],[276.1,-47.1],[268.7,-48.4],[274.7,-48.3],
[288.8,-32.4],[295.4,-32.1],[294.2,-34.2],[291.2,-36.4],[289.6,-37.1],[283.4,-38.6],[287.6,-38.8],[296.9,-38.8],[281,-41.2],[291,-41.2],[295.1,-43.8],[293,-46.2],[289,-47],[293,-47.9],[296,-47.2],[283,-47.9],
[302.7,-31.7],[306.9,-31.7],[303.5,-33.4],[306,-34.1],[312.9,-32.7],[312.9,-35],[311.7,-35.9],[303.5,-37],[309.9,-37.4],[302.2,-38.6],[307.3,-39.2],[313.5,-38.8],[317.5,-38.8],[309.3,-39.7],[312.3,-30.8],[316.3,-31.5],[300.9,-42],[303.5,-42.1],[310.5,-42.4],[319,-42.1],[308.1,-44.2],[311.6,-44.4],[313,-44.2],[318,-44.9],[309.9,-45.9],[313.5,-46],[301.2,-45.8],[303,-46.3],[302.4,-48.5],[302.4,-49.3],[314.1,-41.1],
[144,-40.9],[147.9,-40.7],[145.2,-44.4],[152.8,-45.5],[128.9,-48.5],[146,-48.2],[129.3,-57.3],[147.2,-57],[181.1,-56.6],[196.3,-47.1],[198.5,-47.3],[196.3,-48.4],[213.1,-48.4],[205.1,-43.8],[216.6,-42.7],[217.3,-44.4],[227.6,-46],[234.6,-46],[236.8,-42.4],[172.8,-49.3],[186.3,-51.3],[228.5,-58.8],[211.9,-59],[216.3,-59],[134.9,-61.4],[141.2,-62.5],[123.7,-65.7],[149,-64.9],[154,-66.9],[170,-65.6],[169.6,-67.3],[189.5,-64.9],[197.5,-66],[215.3,-65.7],[150.8,-68.4],[148.4,-70.6],[151.2,-77.5],[232.2,-76.8],[205.5,-82.7],[213.3,-83.9],[191.9,-85.6],[172,-82.4],[237.4,-68.9],[200.9,-42.2],[195.5,-40.5],[220.9,-49],[138.5,-51.5]];

// clumps of overlapping good_RRab where single stars run together
const goodClumps = [[4,28],[9,26],[13,28.5],[5,24],[10,22],[14,24],[3,21.5],[17,22],[7,29],[17,27],[1.5,29],[10.5,29],[16,24.5],[12,26],[2,25.5],[6.5,22],[12.5,21],[18.5,28],[8,23.5],[16,20.8],[1,20.8],[6,26.5],
[343,27],[348,25],[352,28],[346,22],[352,23],[357,25],[356,21],[358,28.5],[342,23],[341,29],[345,29],[349,27],[355,29],[342,25.5],[346,24.5],[354,26],[350,21],[358,21],[358,24],[344,21],[349,29.5],
[29,9],[33,8.5],[36,7.5],[38.5,6],[38,9],[33,6.5],[22,-6],[22,-8.5],[25,-6],[25,-8.5],[28,-7],[28,-9],[31,-8],[35,-5.5],[37,-7.5],[34,-7.5],[38.5,-5],
[42.8,8.5],[46.4,7.3],[50.1,8.5],[53.7,8.5],[57.3,7.6],[51.3,7.3],[56.1,5.5],[41.6,6],[47.6,5.1],[43,-6],[47,-5.5],[51,-5.5],[43,-8.5],[47,-8],[51,-8],[55,-7],[58,-8.5],
[3,-22],[7,-21.5],[12,-21.5],[17,-22],[3,-25],[7,-25],[11,-24],[15,-25],[18,-25],[3,-28],[8,-28],[12,-28],[16,-27.5],[1,-21],[5,-23.5],[9.5,-22.5],[14,-22],[1.5,-26.5],[5.5,-27],[9,-26],[13,-25.5],[17,-28.5],[10,-29],[5,-29.5],[18.5,-21],[14,-28.7],
[343,-22],[347,-21.5],[352,-22],[357,-22],[343,-25],[348,-25],[352,-24.5],[357,-25],[342,-28],[346,-28],[350,-28],[355,-27.5],[341,-21],[345,-23.5],[349,-23],[354,-23],[359,-23.5],[341,-26],[345,-26.5],[350,-26],[354.5,-25],[358,-27.5],[344,-29.3],[352,-29.3],[348,-29.5],
[26,-22.5],[28,-24],[36,-28.5],
[321,8.5],[321,6],[323.5,5.5],[324,8],[327,9.2],[322,18],[325,18],[329,18],[332,18],[333,17],[336,18.5],
[322,-12],[325,-14],[329,-13],[322,-15],[333,-15],[337,-15.5],[322,-18],[326,-18],[333,-18],[337,-18],[339,-17],
[36,17],[33,14],[38.5,19],[31,12],
[36,-16],[34.5,-11.5],[34,-18],
[342,-19],[346,-19],[351,-19.5],[357,-19.5]];

// all_RRab single stars
const allRRab = [[41.6,16.5],[49.1,19.2],[49.1,16.1],[77,14.6],[74.5,11.1],[83.6,15.6],[88.3,16.1],[89.5,11.4],[104.1,14.5],[123.8,15.5],[123,11.6],[140.9,13],[146.7,13.5],[178.8,11.6],[235.4,16.3],[284,14.1],[295.2,12],[310.9,11],[315.6,10.8],[338.9,18],[312.3,21.2],[306.9,21.1],[101.1,22.6],
[18,13.5],[19,15],[17,13],[19,12],[19,17],[18.5,11],[19.5,14],[4,17.5],[12,17],
[353,19],[353,18],[353,17],[352.8,16],[353.5,15.8],[352.5,15.5],[353.8,16.5],
[3,0.5],[8,-0.6],[13,0.3],[18,-0.5],[345,0.5],[352,-0.6],[357,0.4],[343,-0.5],[325,-0.6],[331,0.5],
[63,-4],[66,-5],[68,-3.5],[71,-4],[75,-4.5],[78,-5],[62,-6],[60.5,-9],[69,-6],[73,-6.5],[76,-7],[57,-9.5],
[85.9,7.3],[86.2,5.4],[88.6,5.4],[90.5,5.6],[93.5,8.3],[83.2,5],[93.5,4],[94.1,2.9],[82.6,2.8],[96.5,2.7],[85.7,1.8],[87.5,1.4],[95.3,1.4],[97.1,1.4],[90,0.3],[87,0.5],[82.6,1.7],[98.3,7.1],[91,6],[92.3,3.8],
[82,-2.6],[82.6,-3.3],[86.2,-2],[86.8,-2],[91.1,-2.2],[94.1,-1.6],[97.1,-2.4],[86.8,-4.5],[90.5,-6.4],[94.1,-5.4],[95.3,-6.3],[97.1,-5],[81.2,-7.7],[86.5,-8.9],[89.9,-2.8],[83.8,-3.7],
[104.3,5.6],[112.8,6.4],[116.4,7.5],[109.8,3.1],[116.4,4.3],[118.2,4.7],[117.6,3.5],[109.2,3.5],[103.4,0.9],[117,1.8],[117.6,0.9],[102.5,-2],[107.4,-2.6],[109.2,-0.5],[111.6,-1.6],[113.6,-1.8],[117.6,-0.7],[111,-4.7],[111.6,-7.7],[114,-4.3],[108,-2.8],
[129.1,5.8],[130.9,4.9],[123.6,5.2],[124.3,3.5],[121.2,2],[130.5,2],[138.7,6.4],[135.7,9.6],[126.3,-1.6],[129.7,-0.9],[133.9,-1.6],[136,-0.7],[126,-5.4],[127.9,-5.4],
[144.1,6.2],[152.8,8.9],[150.5,7.6],[144.4,1.8],[153.8,1.8],[155,1.6],[149.6,-3.9],[164.7,4.9],[158.4,5.5],[168.3,2],[177.1,1.4],[168.3,-2.4],[170.3,-1.8],[175.3,-1.8],[168.5,-4.7],[168.9,-5.8],[164.7,-8.1],[177.7,-6.4],[161.6,0.9],
[183.3,5.3],[190.9,3.1],[180.8,-1],[183.3,-1.4],[186,-1.7],[192.7,-2.4],[198.1,-2.6],[196.9,-3.5],[191.1,-5.3],[185.3,-8.5],[209.4,1.4],[212.2,1.4],[213.5,1.4],[204.7,-2.8],[207,-3.5],[213.7,-2.4],[214.8,-3.5],[212.4,-6],[214.9,-7.4],
[231.5,6.6],[225.2,-1],[221.3,-3.1],[224.3,-2.7],[232.1,-2],[235.4,-1.5],[231.9,-4.3],[232.4,-5.8],[230.3,-8.3],
[242,5.5],[250.8,5.8],[258.4,3.5],[250.2,1.4],[254.8,1.4],[243.6,-2.8],[248.4,-1.6],[250.8,-1.4],[254.4,-1.4],[258,-2.7],[249,-2.8],[252.9,-3],[247.8,-4.6],[255.6,-5],[249,-6.2],[256.2,-6.4],[250.5,-6.8],[252.6,-8.1],[242,-8.3],[245.4,-8.3],[247.2,-9.2],
[266.9,5.6],[268.9,4.9],[267.1,3.1],[264.1,2],[276.1,8.5],[275.5,2],[276.7,1.2],[267.1,-1.2],[262.3,-1.2],[264.7,-0.7],[269.5,-0.7],[276.7,-2.4],[270.7,-2.8],[262.9,-2.8],[265.9,-5.6],[266.5,-6.2],[268.5,-7.3],[273.7,-7.1],[269.9,-4.5],
[289.2,7.1],[285.8,5.4],[295.4,-7.3],[288.2,-7.3],
[81.4,-10.6],[98.9,-11.7],[55.5,-19],[79,-18.8],[170.1,-10.4],[111.6,-17.6],[198.9,-12.6],[215.6,-16.5],[214.9,-18.8],[268.3,-10.8],[265.9,-11.9],[275.2,-12.7],[276.7,-16.5],[296.6,-11.9],[293.9,-18],[323.2,-12.4],[323.8,-15.3],[303.3,-14.4],[313.3,-13.2],[313.3,-11.3],[316,-18.6],
[24.5,-22.1],[16.3,-26.9],[120.6,-22.3],[158.3,-20.3],[178.3,-20.3],[244.2,-21.6],[312,-21.2],[329.8,-25],
[278.5,-31.5],[279,-33],[280,-32],[281,-33],[279.5,-34.5],[280.5,-30.8],[279,-35],[282,-32.5],[277.5,-32.7]];

// clumps of overlapping all_RRab near the plane
const allClumps = [[21,9],[24,9],[27,9],[22,7],[25,7],[21,5],[23,5],[26,5],[29,6.5],[31,5.5],[33,4],[37,3.5],[39,2.5],[35,2.5],[31,2.5],[27,2.5],[23,2],[20.5,2.5],[29,4],[37,1.5],[33,1.8],[29,1.5],[25,1.5],
[22,-1.5],[25,-1.5],[29,-1.5],[33,-1.5],[37,-1.5],[21,-3.5],[24,-3],[28,-3.5],[32,-3.5],[31,-5.5],[21,-5.5],[33,-5.5],[39,-2.5],[35.5,-3],
[62,2],[65,2],[68,2],[71,2],[74,2],[77,2.5],[64,4],[67,4.5],[72,4],[76,4],[79,3.5],[61,-1.5],[64,-2],[67,-1.5],[70,-2],[73,-1.5],[76,-2],[79,-2],
[279.5,-32],[280.5,-33.2]];

// outlines of the saturated patches where no single star can be read
const goodPatchWestN = [[0,20],[4,19],[7,19.5],[11,18],[13,18],[16,17],[17,14],[19,13],[20,10],[20,3],[0,3]];
const goodPatchWestS = [[0,-2],[20,-2],[20,-17],[16,-20],[12,-18.5],[8,-20],[4,-19],[0,-20]];
const goodPatchEastN = [[340,20],[344,18.5],[348,19],[352,20],[356,19],[360,20],[360,1],[340,1]];
const goodPatchEastS = [[340,-3],[360,-3],[360,-20],[355,-19],[350,-19.5],[345,-18],[340,-19]];
const goodPatch20N = [[20,10],[40,10],[40,14],[36,15],[35,14],[33,18],[30,17],[30,13],[28,15],[29,19],[26,20],[20,20]];
const goodPatch20S = [[20,-10],[33,-10],[34,-13],[32,-17],[34,-20],[20,-20]];
const goodPatch20S2 = [[36,-10],[40,-10],[40,-20],[37,-20],[38,-16],[36,-13]];
const goodPatch320N = [[320,5],[322,7],[325,8],[328,7],[330,10],[340,10],[340,1],[320,1]];
const goodPatch320N2 = [[320,10],[340,10],[340,20],[330,20],[331,17],[328,16],[326,19],[323,17],[320,18]];
const goodPatch320S = [[320,-3],[340,-3],[340,-10],[331,-9],[329,-10],[325,-7],[322,-9],[320,-6]];
const goodPatch320S2 = [[320,-10],[340,-10],[340,-20],[336,-20],[334,-16],[331,-18],[328,-14],[325,-19],[322,-16],[320,-20]];
const allPatchWestN = [[0,5.6],[2,5],[3.5,7.5],[5,5],[6,3.5],[8,6],[9.5,3.5],[11.5,3],[13,4.5],[15,6],[16.5,8],[19,9.5],[20,10],[20,1],[0,1]];
const allPatchWestS = [[0,-1],[20,-1],[20,-3.5],[15,-3.7],[12,-4],[9,-3.5],[5,-3.5],[0,-2.5]];
const allPatchEastN = [[340,9.8],[342,9.8],[343,6],[344.5,7],[346,5],[348,4],[352,3.5],[355,3],[357,4],[358,5.5],[360,5.5],[360,1],[340,1]];
const allPatchEastS = [[340,-1.2],[360,-1.2],[360,-3],[355,-3.5],[350,-3.7],[345,-4],[340,-3.5]];
const allPatch320N = [[320,4],[325,3.5],[328,4.5],[331,5.5],[335,6],[338,7.5],[339.5,9],[340,9.5],[340,1],[320,1]];
const allPatch320S = [[320,-1.2],[340,-1.2],[340,-3],[332,-3.5],[325,-3.3],[320,-3]];
const allPatch40N = [[40,0.4],[40,4],[43,5],[46,5],[48,6.5],[51,6],[53,4.5],[56,4.5],[60,5],[60,0.4]];
const allPatch40S = [[40,-0.6],[60,-0.6],[60,-4],[56,-4.5],[52,-5],[47,-4],[43,-5.5],[40,-5]];
const allPatch280N = [[283,0.4],[284,3],[287,4],[290,5],[293,4],[296,4.5],[299,5],[300,6],[300,0.4]];
const allPatch280S = [[280,-0.6],[300,-0.6],[300,-3.5],[296,-5],[293,-4],[289,-4.5],[285,-4],[280,-3.5]];
const allPatch300N = [[300,0.4],[300,4],[303,5],[306,4],[309,5],[312,4],[315,5],[318,5.5],[320,5],[320,0.4]];
const allPatch300S = [[300,-0.6],[320,-0.6],[320,-3],[315,-4],[311,-5],[307,-5],[303,-6],[300,-5]];

const BLUE = "#2f72aa";
const DENSE_BLUE = "#2a78b5";
const RED = "#ff0000";
const cellColors = { M: "#151515", D: "#a9a9a9", H: "#d3d3d3" };
const labelFont = '72px "DejaVu Sans"';
const labelFontItalic = 'italic 72px "DejaVu Sans"';

function toXY(list) {
  return list.map((p) => ({ x: p[0], y: p[1] }));
}

function patch(list, color) {
  return {
    data: toXY(list),
    showLine: true,
    fill: "shape",
    backgroundColor: color,
    borderColor: color,
    borderWidth: 0,
    pointRadius: 0,
    tension: 0
  };
}

function stars(list, color, radius) {
  return {
    data: toXY(list),
    backgroundColor: color,
    borderWidth: 0,
    pointRadius: radius,
    pointHoverRadius: radius
  };
}

const cellPlugin = {
  id: "cells",
  beforeDatasetsDraw(chart) {
    const { ctx, scales } = chart;
    cellRows.forEach((row, r) => {
      row.split("").forEach((c, i) => {
        const x0 = scales.x.getPixelForValue(lTicks[i]);
        const x1 = scales.x.getPixelForValue(lTicks[i + 1]);
        const y0 = scales.y.getPixelForValue(bTicks[r]);
        const y1 = scales.y.getPixelForValue(bTicks[r + 1]);
        ctx.fillStyle = cellColors[c];
        ctx.fillRect(x0, y0, x1 - x0, y1 - y0);
      });
    });
  }
};

// axis labels have an italic first letter, and the legend sits on top of the grid
const overlayPlugin = {
  id: "overlay",
  afterDraw(chart) {
    const { ctx } = chart;
    ctx.save();
    ctx.fillStyle = "#000";
    ctx.textBaseline = "middle";
    ctx.textAlign = "left";

    // x label
    ctx.font = labelFontItalic;
    const lW = ctx.measureText("l").width;
    ctx.font = labelFont;
    const xRest = " [deg]";
    const xW = lW + ctx.measureText(xRest).width;
    const xStart = 1524 - xW / 2;
    ctx.font = labelFontItalic;
    ctx.fillText("l", xStart, 1876);
    ctx.font = labelFont;
    ctx.fillText(xRest, xStart + lW, 1876);

    // y label
    ctx.save();
    ctx.translate(71, 920);
    ctx.rotate(-Math.PI / 2);
    ctx.font = labelFontItalic;
    const bW = ctx.measureText("b").width;
    ctx.font = labelFont;
    const yW = bW + ctx.measureText(xRest).width;
    ctx.font = labelFontItalic;
    ctx.fillText("b", -yW / 2, 0);
    ctx.font = labelFont;
    ctx.fillText(xRest, -yW / 2 + bW, 0);
    ctx.restore();

    // legend
    ctx.beginPath();
    ctx.roundRect(1127, 1273, 794, 437, 12);
    ctx.fillStyle = "rgba(255,255,255,0.8)";
    ctx.fill();
    ctx.strokeStyle = "rgba(204,204,204,0.5)";
    ctx.lineWidth = 2;
    ctx.stroke();

    const rowY = [1319, 1402, 1486, 1573, 1658];
    const textY = [1325, 1408, 1491, 1573, 1658];
    const swatch = ["#151515", "#9f9f9f", "#d0d0d0"];
    ctx.font = '59.5px "DejaVu Sans"';
    legendNames.forEach((name, i) => {
      if (i < 3) {
        ctx.fillStyle = swatch[i];
        ctx.fillRect(1148, rowY[i] - 21, 121, 43);
      } else {
        ctx.beginPath();
        ctx.arc(1208.5, rowY[i], 5, 0, Math.PI * 2);
        ctx.fillStyle = i === 3 ? RED : BLUE;
        ctx.fill();
      }
      ctx.fillStyle = "#000";
      ctx.fillText(name, 1314, textY[i]);
    });
    ctx.restore();
  }
};

new Chart(document.getElementById("chart").getContext("2d"), {
  type: "scatter",
  data: {
    // first dataset is drawn on top
    datasets: [
      stars(goodNorthA, BLUE, 6),
      stars(goodNorthB, BLUE, 6),
      stars(goodUpperDisk, BLUE, 6),
      stars(goodMidplane, BLUE, 6),
      stars(goodLowerDisk, BLUE, 6),
      stars(goodSouth, BLUE, 6),
      stars(goodClumps, DENSE_BLUE, 9),
      stars(allRRab, RED, 6),
      stars(allClumps, RED, 10),
      patch(allPatchWestN, RED),
      patch(allPatchWestS, RED),
      patch(allPatchEastN, RED),
      patch(allPatchEastS, RED),
      patch(allPatch320N, RED),
      patch(allPatch320S, RED),
      patch(allPatch40N, RED),
      patch(allPatch40S, RED),
      patch(allPatch280N, RED),
      patch(allPatch280S, RED),
      patch(allPatch300N, RED),
      patch(allPatch300S, RED),
      patch(goodPatchWestN, DENSE_BLUE),
      patch(goodPatchWestS, DENSE_BLUE),
      patch(goodPatchEastN, DENSE_BLUE),
      patch(goodPatchEastS, DENSE_BLUE),
      patch(goodPatch20N, DENSE_BLUE),
      patch(goodPatch20S, DENSE_BLUE),
      patch(goodPatch20S2, DENSE_BLUE),
      patch(goodPatch320N, DENSE_BLUE),
      patch(goodPatch320N2, DENSE_BLUE),
      patch(goodPatch320S, DENSE_BLUE),
      patch(goodPatch320S2, DENSE_BLUE)
    ]
  },
  options: {
    responsive: false,
    animation: false,
    events: [],
    layout: { padding: { top: 0, left: 0, right: 87, bottom: 0 } },
    plugins: {
      legend: { display: false },
      tooltip: { enabled: false },
      title: {
        display: true,
        text: titleText,
        fullSize: false,
        color: "#000",
        font: { family: "DejaVu Sans", size: 71, weight: "normal", lineHeight: 1 },
        padding: { top: 20, bottom: 11 }
      }
    },
    scales: {
      x: {
        type: "linear",
        min: 0,
        max: 360,
        afterFit(scale) { scale.height = 209; },
        afterBuildTicks(scale) { scale.ticks = lTicks.map((v) => ({ value: v })); },
        border: { display: false },
        grid: {
          z: 1,
          color: (c) => (c.tick && c.tick.value === 0 ? "transparent" : "#fff"),
          lineWidth: 5,
          tickColor: "#111",
          tickWidth: 3,
          tickLength: 15,
          tickBorderDash: (c) => (lLabels.includes(c.tick.value) ? [] : [10, 100])
        },
        ticks: {
          autoSkip: false,
          maxRotation: 0,
          color: "#000",
          font: { family: "DejaVu Sans", size: 57 },
          padding: 6,
          callback: (v) => (lLabels.includes(v) ? String(v) : "")
        }
      },
      y: {
        type: "linear",
        min: -90,
        max: 90,
        afterFit(scale) { scale.width = 286; },
        afterBuildTicks(scale) { scale.ticks = bTicks.map((v) => ({ value: v })); },
        border: { display: false },
        grid: {
          z: 1,
          color: (c) => (c.tick && c.tick.value === 90 ? "transparent" : "#fff"),
          lineWidth: 5,
          tickColor: "#111",
          tickWidth: 3,
          tickLength: 14
        },
        ticks: {
          autoSkip: false,
          color: "#000",
          font: { family: "DejaVu Sans", size: 57 },
          padding: 12,
          callback: (v) => (v < 0 ? "\u2212" + Math.abs(v) : String(v))
        }
      }
    }
  },
  plugins: [cellPlugin, overlayPlugin]
});
</script>
</body>
</html>
